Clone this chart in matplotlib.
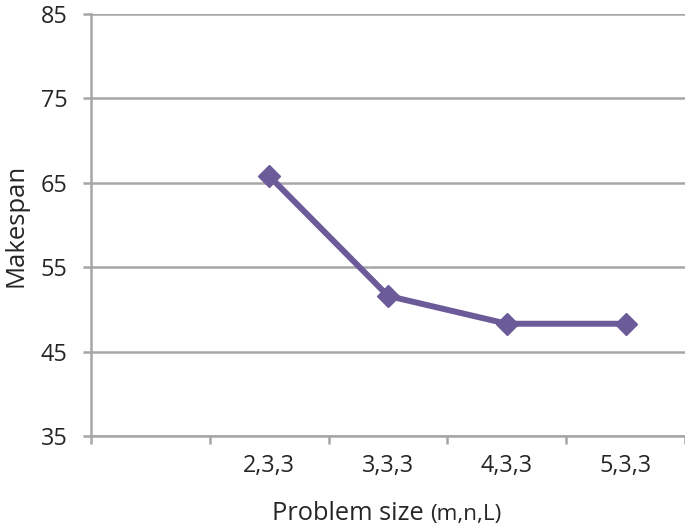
import matplotlib
matplotlib.use("Agg")
import matplotlib.pyplot as plt
import numpy as np

categories = ["", "2,3,3", "3,3,3", "4,3,3", "5,3,3"]
makespan = [np.nan, 65.8, 51.6, 48.3, 48.3]
yticks = [35, 45, 55, 65, 75, 85]

plt.rcParams['font.family'] = ['Open Sans', 'DejaVu Sans']
grey = '#A6A6A6'
purple = '#6B5B98'
txt = '#262626'

fig = plt.figure(figsize=(6.85, 5.31), dpi=100)
ax = fig.add_axes([91/685, 1-436/531, 594/685, 422/531])

x = np.arange(len(categories))
ax.plot(x, makespan, color=purple, lw=4.3, marker='D', markersize=11,
        solid_joinstyle='miter', zorder=3)

ax.set_xlim(-0.5, len(categories) - 0.5)
ax.set_ylim(35, 85)
ax.set_yticks(yticks)
ax.set_yticklabels([str(v) for v in yticks], fontsize=16.8, color=txt)
ax.yaxis.grid(True, color=grey, lw=1.8)
ax.set_axisbelow(True)

ax.set_xticks(x)
ax.set_xticklabels(categories, fontsize=16.8, color=txt)
ax.set_xticks(np.arange(len(categories) + 1) - 0.5, minor=True)
ax.tick_params(axis='x', which='major', length=0, pad=13)
ax.tick_params(axis='x', which='minor', length=6, width=1.8, color=grey, direction='out')
ax.tick_params(axis='y', length=6, width=1.8, color=grey, direction='out', pad=11)

for s in ['top', 'right']:
    ax.spines[s].set_visible(False)
for s in ['left', 'bottom']:
    ax.spines[s].set_color(grey)
    ax.spines[s].set_linewidth(1.8)

fig.text(16/685, 1-225/531, "Makespan", rotation=90, fontsize=18.5,
         ha='center', va='center', color=txt)
fig.text(272/685, 1-520/531, "Problem size", fontsize=18.3, ha='left',
         va='baseline', color=txt)
fig.text(430/685, 1-520/531, "(m,n,L)", fontsize=16.2, ha='left',
         va='baseline', color=txt)

fig.savefig("out.png", dpi=100)
